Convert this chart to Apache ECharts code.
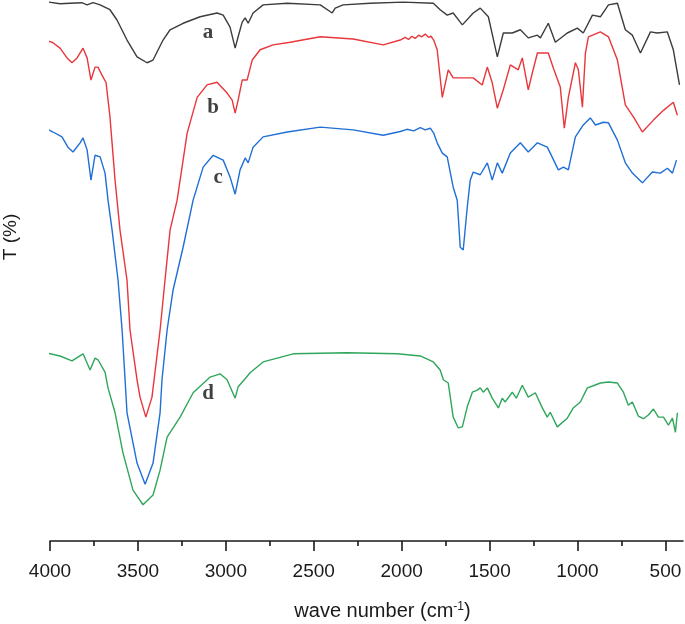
<!DOCTYPE html>
<html>
<head>
<meta charset="utf-8">
<script src="https://cdn.jsdelivr.net/npm/echarts@6/dist/echarts.min.js"></script>
<style>html,body{margin:0;padding:0;background:#fff;}#c{width:685px;height:624px;}</style>
</head>
<body>
<div id="c"></div>
<script>
// Wave numbers (cm-1) and transmittance (offset, arbitrary %) for each spectrum
const aWn = [4025,3943,3886,3820,3789,3755,3715,3659,3619,3562,3505,3448,3414,3357,3317,3243,3146,3050,3015,2976,2947,2930,2907,2890,2873,2845,2788,2651,2463,2395,2378,2333,2179,1991,1820,1781,1741,1707,1667,1655,1593,1553,1507,1456,1422,1371,1325,1280,1228,1211,1166,1126,1058,1001,967,915,870,824,773,728,688,642,585,546,489,455,420];
const aT  = [99.7,99.3,99.4,99.5,99.1,99.5,99.1,98.2,96.3,92.6,89.5,88.4,88.9,92.6,94.5,95.7,96.9,97.6,97.2,95.0,91.1,93.2,95.9,96.7,95.7,97.6,99.1,99.4,99.1,97.6,98.5,99.1,99.4,99.6,99.4,98.2,97.2,97.6,95.9,95.4,97.6,98.5,96.9,89.5,93.9,93.9,94.5,93.0,93.5,93.0,95.7,92.2,93.9,94.8,93.9,97.2,96.9,99.1,99.4,94.5,93.5,90.2,94.1,93.9,94.1,90.8,84.3];

const bWn = [4025,3983,3943,3903,3875,3846,3812,3789,3767,3744,3727,3704,3681,3659,3630,3602,3562,3545,3505,3488,3455,3420,3374,3346,3317,3277,3220,3163,3107,3050,2993,2964,2947,2930,2907,2879,2850,2805,2731,2634,2463,2276,2105,2008,1980,1961,1942,1923,1904,1885,1866,1847,1833,1818,1798,1769,1758,1735,1707,1667,1593,1542,1513,1485,1456,1422,1382,1337,1314,1280,1257,1228,1166,1137,1098,1075,1052,1012,995,972,955,938,870,824,773,728,682,631,568,511,455,432];
const bT  = [92.6,92.1,91.1,89.3,88.4,89.3,91.1,89.3,85.2,87.6,87.6,86.1,84.7,78.4,66.7,57.5,48.2,39.0,29.8,26.6,22.9,26.6,39.0,48.2,57.5,63.0,75.4,82.0,84.3,84.8,82.8,81.5,79.1,81.5,85.2,85.2,88.9,90.8,91.7,92.2,93.2,92.8,91.7,92.6,93.1,92.7,93.3,92.9,93.5,93.2,93.7,93.1,93.3,92.6,90.8,82.0,81.8,87.1,85.6,85.6,85.6,84.3,87.6,84.7,80.0,83.4,88.0,87.1,89.3,83.4,86.5,90.2,90.2,87.4,83.9,76.3,82.0,88.4,87.1,80.2,90.2,93.2,94.1,93.2,88.9,80.6,78.4,75.6,77.8,79.6,81.1,78.7];

const cWn = [4025,3983,3932,3898,3869,3829,3812,3789,3767,3744,3715,3687,3670,3647,3613,3590,3573,3562,3505,3459,3414,3374,3363,3334,3300,3243,3186,3129,3072,3015,2976,2947,2919,2890,2873,2845,2788,2651,2463,2276,2105,2008,1970,1932,1894,1866,1837,1818,1798,1769,1741,1707,1684,1667,1650,1627,1610,1593,1553,1513,1485,1456,1428,1382,1325,1280,1228,1172,1155,1109,1080,1052,1012,967,927,898,853,824,773,728,688,631,574,529,489,460,437];
const cT  = [76.3,75.6,74.7,72.8,71.9,73.6,74.5,72.3,66.7,71.3,71.0,68.0,63.0,57.5,48.2,39.0,29.8,23.7,14.4,10.5,14.4,23.7,29.8,39.0,46.4,54.3,63.0,69.1,71.3,70.4,67.3,64.1,68.6,70.8,69.9,72.8,74.7,75.6,76.5,76.0,75.0,75.7,76.1,75.8,76.4,76.0,76.3,75.4,73.6,71.7,71.0,65.4,63.0,54.3,53.8,61.7,66.7,68.2,67.7,69.9,66.7,69.9,68.0,71.7,73.6,71.9,73.6,72.8,71.7,68.6,69.1,68.6,74.7,76.9,78.2,76.9,77.4,77.3,74.1,69.9,68.0,66.2,68.2,68.0,68.9,68.0,70.4];

const dWn = [4025,3943,3875,3812,3772,3744,3727,3687,3670,3630,3585,3528,3471,3414,3374,3334,3260,3186,3089,3033,2993,2947,2930,2890,2862,2788,2617,2310,2025,1894,1820,1781,1763,1735,1707,1678,1655,1627,1598,1570,1553,1536,1513,1485,1450,1428,1411,1371,1348,1314,1280,1240,1200,1172,1155,1115,1058,1024,984,944,910,870,824,773,739,711,688,654,625,597,568,540,511,483,460,443,432];
const dT  = [34.8,34.2,33.3,34.6,31.6,33.8,33.5,31.2,28.3,23.7,16.3,9.4,6.7,8.5,13.1,19.2,22.9,27.4,30.3,30.9,29.8,26.4,28.5,30.0,31.1,33.1,34.6,34.8,34.6,34.2,33.1,31.6,29.8,29.2,22.9,20.9,21.1,24.8,27.5,27.9,28.3,27.5,28.3,26.4,24.6,26.4,25.7,27.5,26.4,28.8,26.6,27.4,24.6,22.9,23.8,21.1,22.7,24.6,25.7,28.3,28.7,29.2,29.4,29.2,27.5,25.1,25.7,23.1,22.6,23.3,24.4,22.9,22.9,21.4,22.7,20.1,23.7];

const majorTicks = [4000,3500,3000,2500,2000,1500,1000,500];
const minorTicks = [3750,3250,2750,2250,1750,1250,750];
const seriesNames = ['a','b','c','d'];
const seriesColors = ['#3c3c3c','#e8363b','#1f6fd6','#2fa65b'];
// label anchor positions in data space [wave number, T]
const labelPos = [[3101,93.9],[3072,80.2],[3044,67.1],[3101,27.2]];

function zip(x, y){ return x.map((v,i)=>[v,y[i]]); }
const datasets = [zip(aWn,aT), zip(bWn,bT), zip(cWn,cT), zip(dWn,dT)];

const chart = echarts.init(document.getElementById('c'), null, {renderer:'canvas'});
const series = datasets.map((d,i)=>({
  name: seriesNames[i], type:'line', data:d, showSymbol:false, symbol:'none', clip:false,
  lineStyle:{color:seriesColors[i], width:1.4}, itemStyle:{color:seriesColors[i]},
  animation:false, z:2
}));
series.push({
  type:'scatter', symbolSize:0, animation:false, silent:true,
  data: labelPos.map((p,i)=>({value:p, name:seriesNames[i]})),
  label:{show:true, position:'inside', formatter:p=>p.name,
    fontFamily:'Liberation Serif', fontWeight:'bold', fontSize:21, color:'#111'}
});
const axisCommon = {type:'value', min:400, max:4000, inverse:true, position:'bottom',
  splitLine:{show:false}};
chart.setOption({
  backgroundColor:'#fff',
  grid:{left:50, right:2, top:0, bottom:83, containLabel:false, outerBoundsMode:'none'},
  xAxis:[
    Object.assign({}, axisCommon, {
      axisLine:{show:true, lineStyle:{color:'#1a1a1a', width:1.6}},
      axisTick:{show:true, inside:false, length:10, lineStyle:{color:'#1a1a1a', width:1.6}, customValues:majorTicks},
      axisLabel:{show:true, customValues:majorTicks, margin:21, formatter:v=>String(v),
        fontFamily:'Liberation Sans', fontSize:19, color:'#1a1a1a'},
      name:'wave number (cm{sup|-1})', nameLocation:'middle', nameGap:60,
      nameTextStyle:{fontFamily:'Liberation Sans', fontSize:20, lineHeight:20, color:'#1a1a1a',
        padding:[0,0,0,32],
        rich:{sup:{fontFamily:'Liberation Sans', fontSize:12, lineHeight:12, verticalAlign:'top', color:'#1a1a1a'}}}
    }),
    Object.assign({}, axisCommon, {
      axisLine:{show:false},
      axisTick:{show:true, inside:false, length:5, lineStyle:{color:'#1a1a1a', width:1.6}, customValues:minorTicks},
      axisLabel:{show:false}
    })
  ],
  yAxis:{type:'value', min:0, max:100, axisLine:{show:false}, axisTick:{show:false},
    axisLabel:{show:false}, splitLine:{show:false}},
  graphic:[{type:'text', x:11, y:237, rotation:Math.PI/2,
    style:{text:'T (%)', fontFamily:'Liberation Sans', fontSize:19, fill:'#1a1a1a',
      textAlign:'center', textVerticalAlign:'middle'}}],
  series: series
});
</script>
</body>
</html>
